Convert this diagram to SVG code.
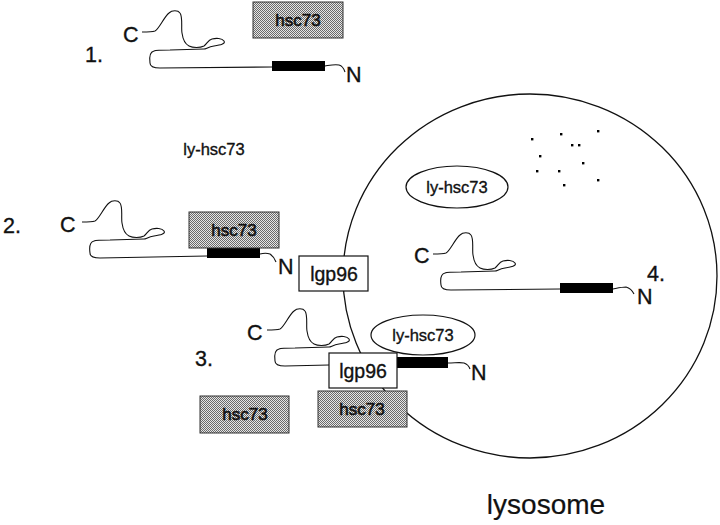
<svg xmlns="http://www.w3.org/2000/svg" xmlns:xlink="http://www.w3.org/1999/xlink" width="720" height="525" viewBox="0 0 720 525">
<style>
text{font-family:"Liberation Sans",Arial,sans-serif;fill:#111;stroke:#111;stroke-width:0.35}
.lbl{font-size:21.5px}
.box{font-size:17px;text-anchor:middle;stroke-width:0.6}
.big{font-size:19.5px;text-anchor:middle}
.ly{font-size:16.5px;text-anchor:middle}
.strand{fill:none;stroke:#111;stroke-width:1.1;stroke-linejoin:round}
.hsc{fill:url(#stip);stroke:#333;stroke-width:1}
.lgp{fill:#fff;stroke:#111;stroke-width:1.2}
.ell{fill:#fff;stroke:#111;stroke-width:1.2}
.blk{fill:#000}
</style>
<defs>
<pattern id="stip" width="2" height="2" patternUnits="userSpaceOnUse">
<rect width="2" height="2" fill="#e6e6e6"/>
<rect width="1" height="1" fill="#6a6a6a"/>
<rect x="1" y="1" width="1" height="1" fill="#6a6a6a"/>
</pattern>
<path id="loop" class="strand" d="M0,0 C6,0 10,0 13,-1 C17,-3 22,-15 27,-19 C30,-22 36,-22 38,-19 C41,-15 39,-4 40,1 C41,8 43,12 47,14 C51,16 58,16 62,14 C65,12 66,8 70,7 C74,6 80,6 82,9 C84,12 78,13 72,14 C66,15 64,17 62,17 L28,18 C20,18 14,18 12,19 C8,20 7,24 8,31 C8,35 12,36 18,36"/>
</defs>
<rect width="720" height="525" fill="#fff"/>

<g id="lysosome">
<ellipse cx="530" cy="276" rx="187" ry="182" fill="none" stroke="#111" stroke-width="1.3"/>
<text x="546" y="514" style="font-size:28px;text-anchor:middle;stroke-width:0.2">lysosome</text>
<g id="dots" fill="#000">
<rect x="531" y="138" width="2.4" height="2.4"/><rect x="560" y="133" width="2.4" height="2.4"/>
<rect x="597" y="130" width="2.4" height="2.4"/><rect x="571" y="144" width="2.4" height="2.4"/>
<rect x="578" y="144" width="2.4" height="2.4"/><rect x="539" y="155" width="2.4" height="2.4"/>
<rect x="582" y="162" width="2.4" height="2.4"/><rect x="536" y="170" width="2.4" height="2.4"/>
<rect x="558" y="170" width="2.4" height="2.4"/><rect x="597" y="179" width="2.4" height="2.4"/>
<rect x="563" y="184" width="2.4" height="2.4"/>
</g>
</g>

<g id="connectors">
<use href="#loop" x="142" y="32"/>
<path class="strand" d="M160,68 L272,67"/>
<path class="strand" d="M325,66 C331,65 335,64 339,65 C343,66 344,69 345,72"/>
<use href="#loop" x="82" y="222"/>
<path class="strand" d="M100,258 L207,256"/>
<path class="strand" d="M260,254 C264,253 267,253 270,254 C273,256 275,259 276,262"/>
<use href="#loop" x="267" y="330"/>
<path class="strand" d="M285,366 L329,365"/>
<path class="strand" d="M448,363 C455,363 460,362 464,363 C467,364 469,366 470,369"/>
<use href="#loop" x="433" y="254"/>
<path class="strand" d="M451,290 L560,289"/>
<path class="strand" d="M613,289 C618,288 622,287 626,287 C630,288 632,290 634,294"/>
</g>

<g id="step1">
<text class="lbl" x="85" y="62">1.</text>
<text class="lbl" x="123" y="42">C</text>
<rect class="blk" x="272" y="61" width="53" height="10"/>
<text class="lbl" x="346" y="82">N</text>
<g id="hsc73-1"><rect class="hsc" x="253" y="2" width="90" height="36"/><text class="box" x="298" y="26">hsc73</text></g>
</g>

<text id="free-ly" class="ly" x="214" y="155">ly-hsc73</text>

<g id="step2">
<text class="lbl" x="3" y="233">2.</text>
<text class="lbl" x="60" y="232">C</text>
<rect class="blk" x="207" y="248" width="53" height="10"/>
<g id="hsc73-2"><rect class="hsc" x="189" y="212" width="90" height="36"/><text class="box" x="234" y="236">hsc73</text></g>
<text class="lbl" x="278" y="274">N</text>
<g id="lgp96-2"><rect class="lgp" x="299" y="256" width="69" height="35"/><text class="big" x="334" y="281">lgp96</text></g>
</g>

<g id="step4">
<g id="ly-hsc73-4"><ellipse class="ell" cx="457" cy="187" rx="51" ry="21"/><text class="ly" x="457" y="193">ly-hsc73</text></g>
<text class="lbl" x="414" y="263">C</text>
<rect class="blk" x="560" y="283" width="53" height="10"/>
<text class="lbl" x="637" y="304">N</text>
<text class="lbl" x="647" y="281">4.</text>
</g>

<g id="step3">
<text class="lbl" x="195" y="366">3.</text>
<text class="lbl" x="247" y="340">C</text>
<g id="ly-hsc73-3"><ellipse class="ell" cx="423" cy="335" rx="52" ry="20"/><text class="ly" x="423" y="341">ly-hsc73</text></g>
<rect class="blk" x="397" y="357" width="51" height="11"/>
<text class="lbl" x="471" y="380">N</text>
<g id="lgp96-3"><rect class="lgp" x="329" y="353" width="68" height="35"/><text class="big" x="363" y="378">lgp96</text></g>
<g id="hsc73-3a"><rect class="hsc" x="318" y="391" width="89" height="36"/><text class="box" x="362" y="415">hsc73</text></g>
<g id="hsc73-3b"><rect class="hsc" x="200" y="396" width="89" height="37"/><text class="box" x="245" y="420">hsc73</text></g>
</g>
</svg>
